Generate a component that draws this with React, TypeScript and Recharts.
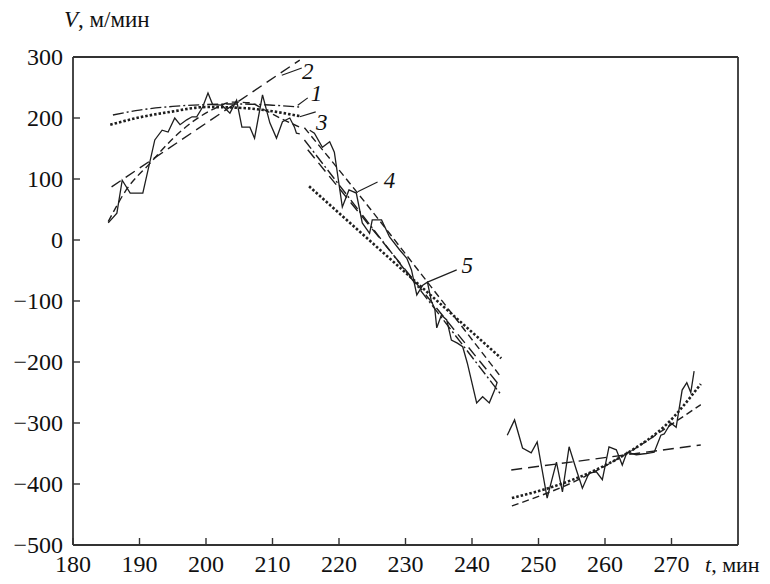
import React from "react";
import {
  LineChart,
  Line,
  XAxis,
  YAxis,
  ReferenceLine,
  Scatter,
} from "recharts";

const seg1T = [185.3, 186.6, 187.4, 188.6, 190.5, 192.3, 193.4, 194.3, 195.3, 196.1, 197.1, 197.9, 198.6, 199.5, 200.3, 201.0, 202.4, 203.6, 204.6, 205.4, 206.6, 207.3, 208.5, 209.6, 210.6, 211.5, 212.6, 213.3, 213.6, 214.1];
const seg1V = [28, 44, 98, 77, 77, 164, 180, 177, 200, 189, 197, 202, 202, 218, 241, 222, 221, 208, 229, 185, 185, 167, 238, 192, 167, 194, 200, 185, 175, 174];

const seg2T = [215.6, 216.3, 217.5, 218.6, 219.3, 220.5, 221.5, 222.6, 223.5, 224.6, 225.0, 226.4, 227.6, 229.1, 230.2, 230.9, 231.7, 232.6, 233.3, 233.9, 234.4, 234.7, 235.4, 236.2, 236.9, 237.8, 238.6, 239.3, 240.7, 241.6, 242.6, 243.4, 243.8];
const seg2V = [180, 175, 152, 161, 144, 54, 82, 77, 28, 11, 33, 33, 5, -16, -30, -49, -90, -74, -69, -101, -112, -144, -123, -131, -164, -169, -175, -202, -267, -257, -267, -246, -233];

const seg3T = [245.3, 246.4, 247.6, 248.9, 249.8, 251.3, 252.7, 253.6, 254.6, 255.7, 256.6, 257.6, 258.7, 259.6, 260.6, 261.7, 262.6, 263.3, 264.7, 266.2, 267.4, 268.4, 268.9, 269.9, 270.7, 271.6, 272.3, 272.9, 273.4];
const seg3V = [-320, -295, -341, -349, -331, -423, -364, -413, -339, -377, -407, -382, -380, -393, -339, -344, -369, -348, -352, -350, -348, -320, -318, -300, -307, -246, -234, -250, -215];

// approximations, first interval
const fit1T = [186.0, 190, 195, 200, 205, 210, 214.1];
const fit1V = [205, 213, 219, 222, 223, 221, 218];
const fit2T = [185.8, 214.1];
const fit2V = [87, 295];
const fit3T = [185.6, 190, 194.6, 200.1, 206.1, 210, 214.1];
const fit3V = [189, 201, 210, 218, 216, 211, 203];
const fitQ1T = [185.3, 188, 191.6, 195, 198, 201, 204, 206.5, 209, 211.5, 214.1];
const fitQ1V = [30, 82, 126, 166, 194, 214, 226, 225, 212, 198, 185];

// second interval
const fit4T = [214.8, 222.8, 233.3, 244.1];
const fit4V = [184, 77, -69, -221];
const fit5T = [215.5, 244.4];
const fit5V = [88, -194];
const fitB2T = [214.8, 244.4];
const fitB2V = [164, -254];
const fitC2T = [215.3, 244.1];
const fitC2V = [148, -238];

// third interval
const fitD3T = [246, 252, 258, 264, 269, 274.4];
const fitD3V = [-423, -405, -380, -345, -305, -236];
const fitQ3T = [246, 256, 263.6, 271, 274.4];
const fitQ3V = [-436, -393, -348, -295, -270];
const fitL3T = [245.9, 274.4];
const fitL3V = [-377, -336];

const xTicks = [180, 190, 200, 210, 220, 230, 240, 250, 260, 270];
const yTicks = [-500, -400, -300, -200, -100, 0, 100, 200, 300];

const curveNames = ["1", "2", "3", "4", "5"];
const curveNameT = [216.6, 215.3, 217.4, 227.6, 239.3];
const curveNameV = [241, 277, 193, 98, -41];
const leaderFrom = [[213.8, 221], [211.4, 270], [214.1, 202], [222.8, 79], [233.3, -69]];
const leaderTo = [[215.3, 233], [214.4, 282], [216.5, 210], [225.8, 95], [237.7, -49]];

const pts = (t: number[], v: number[]) => t.map((x, i) => ({ t: x, v: v[i] }));

const INK = "#1e1e1e";
const FONT = "Liberation Serif, Times New Roman, serif";

const XTick = (props: any) => {
  const { x, y, payload } = props;
  return (
    <g>
      <line x1={x} y1={y} x2={x} y2={y - 7} stroke="#333" strokeWidth={1.4} />
      <text x={x} y={y + 27} textAnchor="middle" fontSize={24} fontFamily={FONT} fill="#111">
        {payload.value}
      </text>
    </g>
  );
};

const YTick = (props: any) => {
  const { x, y, payload } = props;
  const label = String(payload.value).replace("-", "\u2212");
  return (
    <g>
      <line x1={x} y1={y} x2={x + 7} y2={y} stroke="#333" strokeWidth={1.4} />
      <text x={x - 10} y={y + 8} textAnchor="end" fontSize={24} fontFamily={FONT} fill="#111">
        {label}
      </text>
    </g>
  );
};

const NameMark = (props: any) => {
  const { cx, cy, payload } = props;
  return (
    <text x={cx} y={cy + 8} textAnchor="middle" fontSize={23} fontStyle="italic" fontFamily={FONT} fill="#111">
      {payload.name}
    </text>
  );
};

export default function App() {
  const names = curveNames.map((n, i) => ({ t: curveNameT[i], v: curveNameV[i], name: n }));
  const fits: { d: { t: number; v: number }[]; dash: string; w: number }[] = [
    { d: pts(fit1T, fit1V), dash: "11 3 2 3", w: 1.4 },
    { d: pts(fit2T, fit2V), dash: "11 6", w: 1.4 },
    { d: pts(fit3T, fit3V), dash: "2.5 2", w: 2.6 },
    { d: pts(fitQ1T, fitQ1V), dash: "7 4", w: 1.4 },
    { d: pts(fit4T, fit4V), dash: "7 4", w: 1.4 },
    { d: pts(fit5T, fit5V), dash: "2.5 2", w: 2.6 },
    { d: pts(fitB2T, fitB2V), dash: "11 3 2 3", w: 1.4 },
    { d: pts(fitC2T, fitC2V), dash: "11 6", w: 1.4 },
    { d: pts(fitD3T, fitD3V), dash: "2.5 2", w: 2.6 },
    { d: pts(fitQ3T, fitQ3V), dash: "7 4", w: 1.4 },
    { d: pts(fitL3T, fitL3V), dash: "11 6", w: 1.4 },
  ];

  return (
    <div style={{ position: "absolute", left: 0, top: 0, width: 770, height: 584, background: "#fff" }}>
      <LineChart width={770} height={584} margin={{ top: 57, right: 32, bottom: 0, left: 0 }}>
        <XAxis
          dataKey="t"
          type="number"
          domain={[180, 280]}
          ticks={xTicks}
          height={39}
          tickSize={0}
          tickMargin={0}
          tickLine={false}
          axisLine={{ stroke: "#333", strokeWidth: 1.8 }}
          tick={<XTick />}
          interval={0}
          allowDataOverflow
          label={{
            content: ({ viewBox }: any) => (
              <text x={viewBox.x + 632} y={viewBox.y + 27} fontSize={22} fontFamily={FONT} fill="#111">
                <tspan fontStyle="italic">t</tspan>, мин
              </text>
            ),
          }}
        />
        <YAxis
          dataKey="v"
          type="number"
          domain={[-500, 300]}
          ticks={yTicks}
          width={73}
          tickSize={0}
          tickMargin={0}
          tickLine={false}
          axisLine={{ stroke: "#333", strokeWidth: 1.8 }}
          tick={<YTick />}
          interval={0}
          allowDataOverflow
          label={{
            content: ({ viewBox }: any) => (
              <text x={viewBox.x + 64} y={viewBox.y - 30} fontSize={23} fontFamily={FONT} fill="#111">
                <tspan fontStyle="italic">V</tspan>, м/мин
              </text>
            ),
          }}
        />
        <ReferenceLine y={300} stroke="#333" strokeWidth={1.8} />
        <ReferenceLine x={280} stroke="#333" strokeWidth={1.8} />

        <Line data={pts(seg1T, seg1V)} dataKey="v" stroke={INK} strokeWidth={1.3} dot={false} isAnimationActive={false} />
        <Line data={pts(seg2T, seg2V)} dataKey="v" stroke={INK} strokeWidth={1.3} dot={false} isAnimationActive={false} />
        <Line data={pts(seg3T, seg3V)} dataKey="v" stroke={INK} strokeWidth={1.3} dot={false} isAnimationActive={false} />

        {fits.map((f, i) => (
          <Line
            key={i}
            data={f.d}
            dataKey="v"
            type="monotone"
            stroke={INK}
            strokeWidth={f.w}
            strokeDasharray={f.dash}
            dot={false}
            isAnimationActive={false}
          />
        ))}

        {leaderFrom.map((p, i) => (
          <ReferenceLine
            key={"l" + i}
            segment={[{ x: p[0], y: p[1] }, { x: leaderTo[i][0], y: leaderTo[i][1] }]}
            stroke={INK}
            strokeWidth={1.2}
          />
        ))}
        <Scatter data={names} dataKey="v" shape={<NameMark />} isAnimationActive={false} />
      </LineChart>
    </div>
  );
}
